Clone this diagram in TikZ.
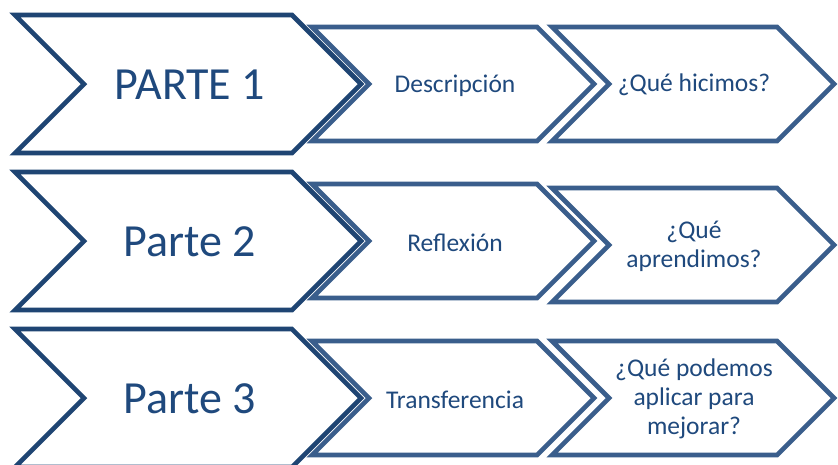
\documentclass[tikz,border=0pt]{standalone}
\usepackage{fontspec}
\setmainfont{Carlito}
\usepackage{tikz}
\usetikzlibrary{calc}
\definecolor{bigblue}{RGB}{31,69,115}
\definecolor{smallblue}{RGB}{58,94,140}
\definecolor{txtblue}{RGB}{31,73,125}
\tikzstyle{bigchev}=[draw=bigblue,line width=4.6pt,line join=miter]
\tikzstyle{smallchev}=[draw=smallblue,line width=4.6pt,line join=miter]
\tikzstyle{bigtxt}=[text=txtblue,font=\fontsize{46}{50}\selectfont]
\tikzstyle{smalltxt}=[text=txtblue,align=center,font=\fontsize{25.5}{29}\selectfont]
% chevron: style, left x, corner x, middle y, half height
\newcommand{\chev}[5]{\draw[#1] (#2,#4-#5) -- (#3,#4-#5) -- (#3+#5,#4)
  -- (#3,#4+#5) -- (#2,#4+#5) -- (#2+#5,#4) -- cycle;}

\begin{document}
\begin{tikzpicture}[x=1pt,y=-1pt]
\useasboundingbox[fill=white] (0,0) rectangle (838,464);
\foreach \n/\y/\dy/\big/\what/\ask in {%
  1/84/0/PARTE 1/Descripción/¿Qué hicimos?,
  2/241/4/Parte 2/Reflexión/{¿Qué\\aprendimos?},
  3/398/0/Parte 3/Transferencia/{¿Qué podemos\\aplicar para\\mejorar?}}{
\chev{bigchev}{15}{292}{\y}{69}
\chev{smallchev}{312}{537}{\y}{57}
\chev{smallchev}{552}{777}{\y+\dy}{57}
\node[bigtxt] (part\n) at (190,\y+1) {\big};
\node[smalltxt] (what\n) at (455,\y+2) {\what};
\node[smalltxt] (ask\n) at (694,\y+\dy+1) {\ask};
}
\end{tikzpicture}
\end{document}
